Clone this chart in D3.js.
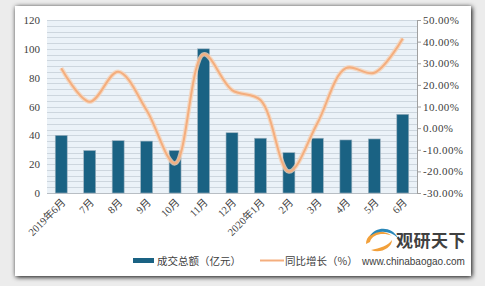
<!DOCTYPE html>
<html>
<head>
<meta charset="utf-8">
<script src="https://cdn.jsdelivr.net/npm/d3@7"></script>
<style>
  body { margin: 0; background: #ececec; }
  svg { display: block; }
  text { font-family: "Liberation Serif", "Noto Sans CJK SC", serif; fill: #404040; }
</style>
</head>
<body>
<div id="chart"></div>
<script>
"use strict";

// == DATA ==
var months = ["2019年6月", "7月", "8月", "9月", "10月", "11月", "12月",
              "2020年1月", "2月", "3月", "4月", "5月", "6月"];
var turnover = [40, 29.5, 36.3, 36, 29.5, 100, 41.8, 38, 28, 38, 36.8, 37.5, 54.6];
var growth = [27.7, 12.2, 26.1, 8.3, -16.3, 34.1, 17.6, 13, -20.1, 2.3, 27.7, 25.6, 41.5];
var leftTicks = [0, 20, 40, 60, 80, 100, 120];
var rightTicks = [-30, -20, -10, 0, 10, 20, 30, 40, 50];
var legendNames = ["成交总额（亿元）", "同比增长（%）"];

// == BOILERPLATE ==
var W = 485, H = 286;
var margin = { top: 20, right: 68, bottom: 93, left: 47 },
    width = W - margin.left - margin.right,
    height = H - margin.top - margin.bottom;

var root = d3.select("#chart").append("svg")
    .attr("width", W).attr("height", H);

var defs = root.append("defs");
var f = defs.append("filter").attr("id", "shadow")
    .attr("x", "-5%").attr("y", "-5%").attr("width", "110%").attr("height", "110%");
f.append("feGaussianBlur").attr("in", "SourceAlpha").attr("stdDeviation", 2.5);
f.append("feOffset").attr("dx", 1).attr("dy", 1).attr("result", "b");
var fm = f.append("feMerge");
fm.append("feMergeNode").attr("in", "b");
fm.append("feMergeNode").attr("in", "SourceGraphic");

// panel
root.append("rect")
    .attr("x", 15).attr("y", 6).attr("width", 456).attr("height", 270)
    .attr("fill", "#fff").style("filter", "url(#shadow)");

var svg = root.append("g")
    .attr("transform", "translate(" + margin.left + "," + margin.top + ")");

// == SCALES ==
var x = d3.scaleBand().domain(months).range([0, width]).paddingInner(0.58).paddingOuter(0.29);
var y = d3.scaleLinear().domain([0, 120]).range([height, 0]);
var y2 = d3.scaleLinear().domain([-30, 50]).range([height, 0]);

// plot background + striped grid
svg.append("rect").attr("width", width).attr("height", height).attr("fill", "#ebf2f8");
svg.append("g").selectAll("line")
    .data(d3.range(0, 121, 4))
    .enter().append("line")
    .attr("x1", 0).attr("x2", width)
    .attr("y1", function (d) { return Math.round(y(d)) + 0.5; })
    .attr("y2", function (d) { return Math.round(y(d)) + 0.5; })
    .attr("stroke", "#cdd6de").attr("stroke-width", 1);

// == AXES ==
var leftAxis = svg.append("g")
    .call(d3.axisLeft(y).tickValues(leftTicks).tickSize(0).tickPadding(7));
leftAxis.select(".domain").remove();
leftAxis.selectAll("text").style("font-size", "11px").attr("fill", "#404040");

var rightAxis = svg.append("g")
    .attr("transform", "translate(" + width + ",0)")
    .call(d3.axisRight(y2).tickValues(rightTicks).tickSize(4).tickPadding(2)
          .tickFormat(function (d) { return d.toFixed(2) + "%"; }));
rightAxis.select(".domain").attr("stroke", "#a0a0a0");
rightAxis.selectAll("line").attr("stroke", "#a0a0a0");
rightAxis.selectAll("text").style("font-size", "11px").style("letter-spacing", "0.4px")
    .attr("fill", "#404040");

svg.append("line").attr("x1", 0).attr("x2", width)
    .attr("y1", height + 0.5).attr("y2", height + 0.5).attr("stroke", "#b8bec4");

var xAxis = svg.append("g")
    .attr("transform", "translate(0," + height + ")")
    .call(d3.axisBottom(x).tickSize(0).tickPadding(0));
xAxis.select(".domain").remove();
xAxis.selectAll("text")
    .style("font-size", "10.5px").attr("fill", "#404040")
    .attr("text-anchor", "end")
    .attr("dy", 0)
    .attr("transform", "translate(5,10) rotate(-45)");

// == BARS ==
svg.selectAll(".bar")
    .data(turnover)
    .enter().append("rect")
    .attr("class", "bar")
    .attr("x", function (d, i) { return x(months[i]); })
    .attr("y", function (d) { return y(d); })
    .attr("width", x.bandwidth())
    .attr("height", function (d) { return height - y(d); })
    .attr("fill", "#1a6283")
    .attr("stroke", "#9fb3c0").attr("stroke-width", 0.6);

// == LINE ==
var line = d3.line()
    .x(function (d, i) { return x(months[i]) + x.bandwidth() / 2; })
    .y(function (d) { return y2(d); })
    .curve(d3.curveCatmullRom.alpha(0.5));

svg.append("path").datum(growth)
    .attr("d", line).attr("fill", "none")
    .attr("stroke", "#f6d2b6").attr("stroke-width", 4.5).attr("opacity", 0.8);
svg.append("path").datum(growth)
    .attr("d", line).attr("fill", "none")
    .attr("stroke", "#f4ae7e").attr("stroke-width", 2);

// == LEGEND ==
var lg = root.append("g");
lg.append("rect").attr("x", 116).attr("y", 251).attr("width", 178).attr("height", 18)
    .attr("fill", "#fff");
lg.append("rect").attr("x", 133).attr("y", 258).attr("width", 21).attr("height", 5)
    .attr("fill", "#1a6283");
lg.append("text").attr("x", 157).attr("y", 264.5).text(legendNames[0])
    .style("font-size", "10.5px").style("font-family", "Noto Sans CJK SC");
lg.append("line").attr("x1", 260).attr("x2", 284).attr("y1", 260.5).attr("y2", 260.5)
    .attr("stroke", "#f4ae7e").attr("stroke-width", 2);
lg.append("text").attr("x", 285).attr("y", 264.5).text(legendNames[1])
    .style("font-size", "10.5px").style("font-family", "Noto Sans CJK SC");

// == WATERMARK ==
var wm = root.append("g");
wm.append("path").attr("d", "M366,244 C366,232 382,228 392,236 C384,232 372,234 370,242 Z")
    .attr("fill", "#f2a03a");
wm.append("path").attr("d", "M371,250 C380,254 392,248 392,240 C388,246 380,248 371,250 Z")
    .attr("fill", "#f2a03a");
wm.append("path").attr("d", "M370,236 C376,226 392,226 398,238 C390,230 378,230 370,236 Z")
    .attr("fill", "#2a87b8");
wm.append("text").attr("x", 396).attr("y", 246.5).text("观研天下")
    .style("font-family", "Noto Sans CJK SC").style("font-weight", "bold")
    .style("font-size", "17px").style("letter-spacing", "0.5px").attr("fill", "#222");
wm.append("text").attr("x", 362).attr("y", 265).text("www.chinabaogao.com")
    .style("font-family", "Liberation Sans").style("font-size", "10px").attr("fill", "#333");
</script>
</body>
</html>
